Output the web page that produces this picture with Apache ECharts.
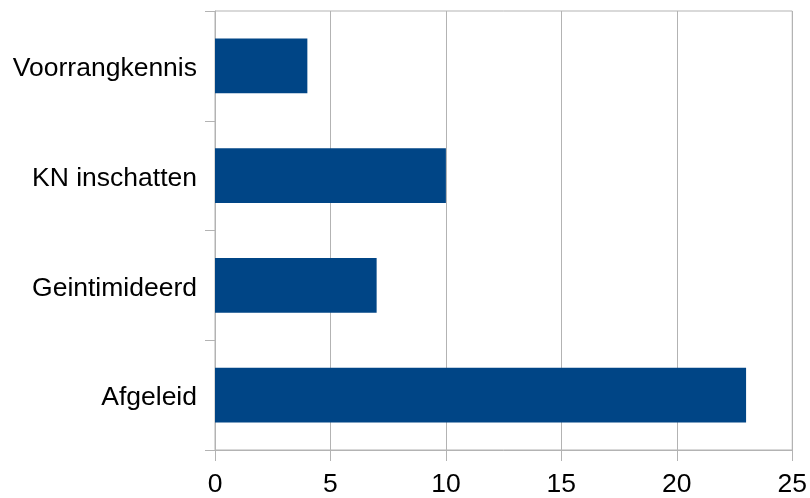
<!DOCTYPE html>
<html><head><meta charset="utf-8">
<script src="https://cdn.jsdelivr.net/npm/echarts@6/dist/echarts.min.js"></script>
<style>html,body{margin:0;padding:0;background:#fff}#c{width:810px;height:498px}</style>
</head><body><div id="c"></div>
<script>
const categories = ['Afgeleid', 'Geintimideerd', 'KN inschatten', 'Voorrangkennis'];
const values = [23, 7, 10, 4];
const xTicks = { min: 0, max: 25, interval: 5 };

const chart = echarts.init(document.getElementById('c'), null, { renderer: 'canvas' });
const gray = '#b3b3b3';
chart.setOption({
  animation: false,
  textStyle: { fontFamily: 'Liberation Sans' },
  grid: { left: 215, right: 17, top: 11, bottom: 48, show: true, borderColor: gray, borderWidth: 1, backgroundColor: 'transparent' },
  xAxis: {
    type: 'value', min: xTicks.min, max: xTicks.max, interval: xTicks.interval,
    axisLine: { show: true, lineStyle: { color: gray, width: 1 } },
    axisTick: { show: true, length: 11, lineStyle: { color: gray } },
    splitLine: { show: true, lineStyle: { color: gray, width: 1 } },
    axisLabel: { color: '#000', fontSize: 26.5, margin: 21, fontFamily: 'Liberation Sans' }
  },
  yAxis: {
    type: 'category', data: categories,
    axisLine: { show: true, lineStyle: { color: gray, width: 1 } },
    axisTick: { show: true, length: 10, lineStyle: { color: gray } },
    splitLine: { show: false },
    axisLabel: {
      color: '#000', fontSize: 26.5, margin: 18, fontFamily: 'Liberation Sans',
      formatter: '{a|{value}}',
      rich: { a: { fontSize: 26.5, color: '#000', fontFamily: 'Liberation Sans', padding: [6, 0, 0, 0] } }
    }
  },
  series: [{
    type: 'bar', data: values, barWidth: '50%',
    itemStyle: { color: '#004586' }
  }]
});
</script></body></html>
